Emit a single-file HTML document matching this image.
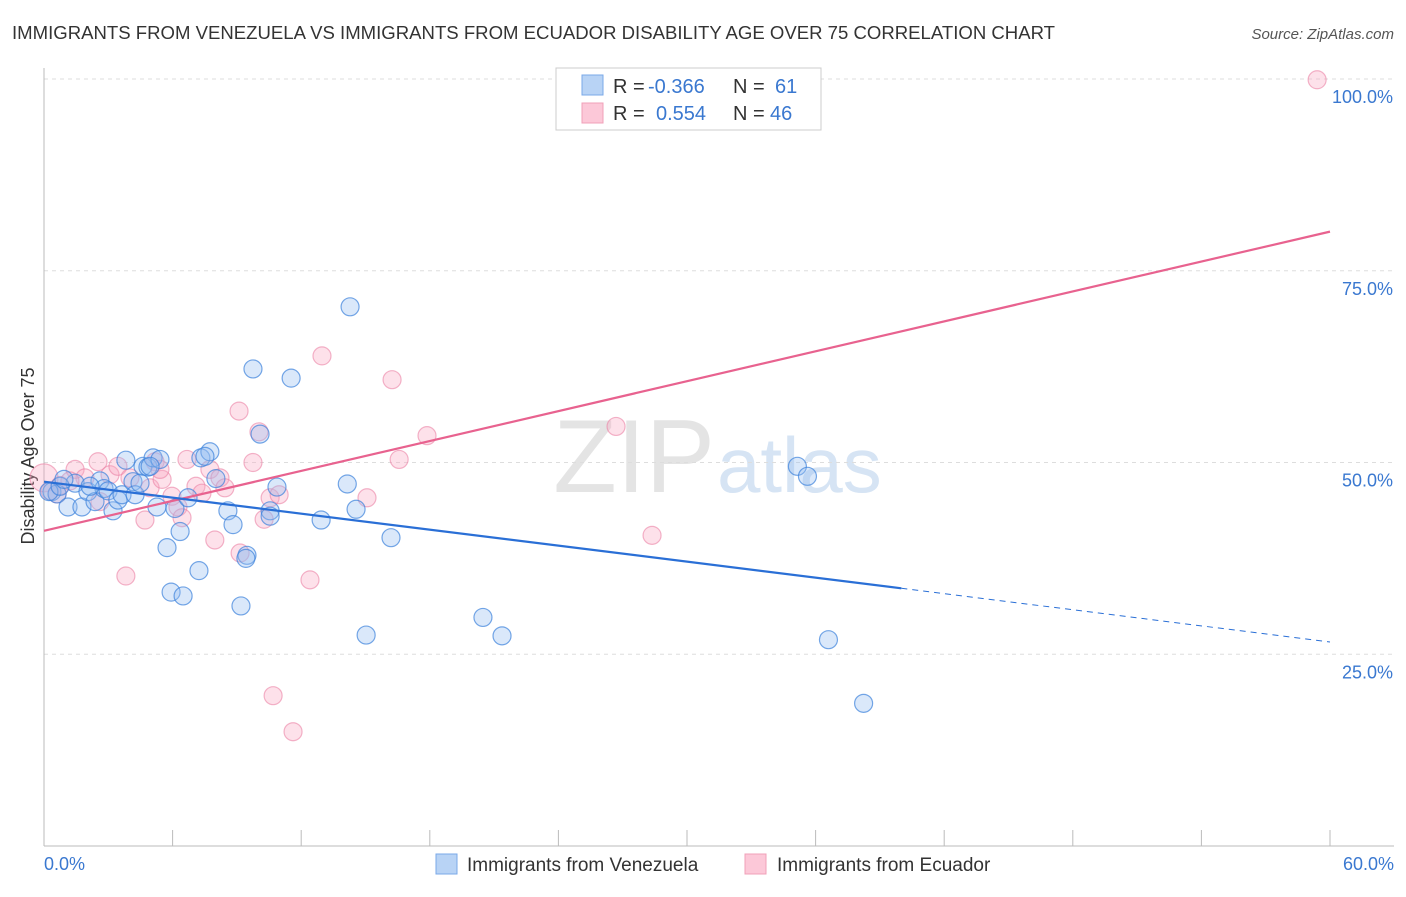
<!DOCTYPE html>
<html><head><meta charset="utf-8"><style>
body{margin:0;background:#fff;font-family:"Liberation Sans",sans-serif;}
svg text{font-family:"Liberation Sans",sans-serif;}
</style></head><body>
<svg width="1406" height="892">
<text x="12" y="39" font-size="18" fill="#333" textLength="1043" lengthAdjust="spacingAndGlyphs">IMMIGRANTS FROM VENEZUELA VS IMMIGRANTS FROM ECUADOR DISABILITY AGE OVER 75 CORRELATION CHART</text>
<text x="1394" y="39" font-size="15" fill="#555" font-style="italic" text-anchor="end">Source: ZipAtlas.com</text>
<text x="715" y="492" font-size="104" fill="#e4e4e4" text-anchor="end" font-family="Liberation Serif">ZIP</text>
<text x="717" y="492" font-size="78" fill="#d6e4f4">atlas</text>
<g id="grid"></g>
<line x1="44" y1="68" x2="44" y2="846" stroke="#bbb"/>
<line x1="44" y1="846" x2="1394" y2="846" stroke="#bbb"/>
<text x="34" y="456" font-size="18" fill="#333" text-anchor="middle" transform="rotate(-90 34 456)">Disability Age Over 75</text>
<text x="44" y="870" font-size="18" fill="#3a78d0">0.0%</text>
<text x="1394" y="870" font-size="18" fill="#3a78d0" text-anchor="end">60.0%</text>
<g id="pts"></g>
<g id="lines"></g>
<rect x="556" y="68" width="265" height="62" fill="#fff" stroke="#ccc"/>
<rect x="582" y="75" width="21" height="20" fill="#b8d3f5" stroke="#7aa8e8"/>
<rect x="582" y="103" width="21" height="20" fill="#fcc8d8" stroke="#f0a0b8"/>
<text x="613" y="93" font-size="20" fill="#333">R = <tspan fill="#3a78d0" x="648">-0.366</tspan></text>
<text x="733" y="93" font-size="20" fill="#333">N = <tspan fill="#3a78d0" x="775">61</tspan></text>
<text x="613" y="120" font-size="20" fill="#333">R = <tspan fill="#3a78d0" x="656">0.554</tspan></text>
<text x="733" y="120" font-size="20" fill="#333">N = <tspan fill="#3a78d0" x="770">46</tspan></text>
<rect x="436" y="854" width="21" height="20" fill="#b8d3f5" stroke="#7aa8e8"/>
<text x="467" y="871" font-size="19" fill="#333">Immigrants from Venezuela</text>
<rect x="745" y="854" width="21" height="20" fill="#fcc8d8" stroke="#f0a0b8"/>
<text x="777" y="871" font-size="19" fill="#333">Immigrants from Ecuador</text>
</svg>
<script>
const yTicks=[25,50,75,100];
const xTicks=[0,6,12,18,24,30,36,42,48,54,60];
const blueX=[0.37,0.61,1.12,1.45,1.77,2.05,2.38,2.61,2.8,2.99,3.22,3.45,3.64,3.82,4.15,4.25,4.62,4.85,5.09,5.27,5.41,5.74,5.93,6.11,6.35,6.49,6.72,7.23,7.32,7.74,8.02,8.58,8.82,9.19,9.47,9.75,10.08,10.55,10.87,11.53,12.93,14.15,14.28,14.56,15.03,16.19,20.48,21.37,35.15,35.62,36.6,38.24,0.23,0.75,0.93,2.15,4.48,4.95,7.51,10.55,9.42];
const blueY=[46.2,45.9,44.2,47.3,44.2,46.2,44.9,47.6,46.6,46.3,43.7,45.1,45.8,50.3,47.5,45.8,49.5,49.4,50.6,44.2,50.4,38.9,33.1,44.0,41.0,32.6,45.4,35.9,50.6,51.4,47.9,43.7,41.9,31.3,37.9,62.2,53.7,43.7,46.8,61.0,42.5,47.2,70.3,43.9,27.5,40.2,29.8,27.4,49.5,48.2,26.9,18.6,46.2,46.9,47.8,46.9,47.3,49.5,50.8,43.0,37.5];
const pinkX=[0,0.28,0.75,1.45,1.91,2.52,3.08,3.45,3.82,4.01,4.71,4.95,5.18,5.51,5.97,6.25,6.44,6.67,7.09,7.37,7.74,7.97,8.21,8.44,9.1,9.75,10.03,10.27,10.55,10.69,10.97,11.62,12.41,12.97,15.07,16.24,16.57,17.87,26.69,28.37,59.4,9.15,2.61,1.21,5.41,0.61];
const pinkY=[48.0,46.3,47.0,49.1,48.0,50.1,48.4,49.5,35.2,48.0,42.5,46.7,50.1,47.8,45.6,44.2,42.8,50.4,46.9,46.0,49.1,39.9,48.0,46.7,56.7,50.0,54.0,42.6,45.4,19.6,45.8,14.9,34.7,63.9,45.4,60.8,50.4,53.5,54.7,40.5,99.9,38.2,44.9,47.6,49.1,45.9];
const blueTrend=[[0,47.5],[40,33.6],[60,26.6]];
const pinkTrend=[[0,41.1],[60,80.1]];
const NS='http://www.w3.org/2000/svg';
const X=v=>44+v/60*1286, Y=v=>846-v/100*767;
function mk(t,a,p){const e=document.createElementNS(NS,t);for(const k in a)e.setAttribute(k,a[k]);p.appendChild(e);return e;}
const grid=document.getElementById('grid');
yTicks.forEach(t=>{
 const l=mk('line',{x1:44,x2:1394,y1:Y(t),y2:Y(t),stroke:'#ddd','stroke-dasharray':'4,4'},grid);
 
 
 const tx=mk('text',{x:1393,y:Y(t)+24,'font-size':18,fill:'#3a78d0','text-anchor':'end'},grid);
 tx.textContent=t.toFixed(1)+'%';
 
 
});
xTicks.forEach(t=>{
 const l=mk('line',{x1:X(t),x2:X(t),y1:830,y2:846,stroke:'#bbb'},grid);
 
 
});
const pts=document.getElementById('pts');
pinkX.forEach((x,i)=>{
 const c=mk('circle',{cx:X(x),cy:Y(pinkY[i]),r:i==0?14:9,fill:'rgba(248,170,195,0.35)',stroke:'rgba(235,130,165,0.6)','stroke-width':1.2},pts);
 
 
});
blueX.forEach((x,i)=>{
 const c=mk('circle',{cx:X(x),cy:Y(blueY[i]),r:9,fill:'rgba(150,190,240,0.35)',stroke:'rgba(60,130,220,0.7)','stroke-width':1.2},pts);
 
 
});
const ln=document.getElementById('lines');
const p=mk('line',{x1:X(pinkTrend[0][0]),y1:Y(pinkTrend[0][1]),x2:X(pinkTrend[1][0]),y2:Y(pinkTrend[1][1]),stroke:'#e8628f','stroke-width':2.2},ln);


const b=mk('line',{x1:X(blueTrend[0][0]),y1:Y(blueTrend[0][1]),x2:X(blueTrend[1][0]),y2:Y(blueTrend[1][1]),stroke:'#2a6fd6','stroke-width':2.2},ln);


const bd=mk('line',{x1:X(blueTrend[1][0]),y1:Y(blueTrend[1][1]),x2:X(blueTrend[2][0]),y2:Y(blueTrend[2][1]),stroke:'#2a6fd6','stroke-width':1,'stroke-dasharray':'6,5'},ln);


</script>
</body></html>
